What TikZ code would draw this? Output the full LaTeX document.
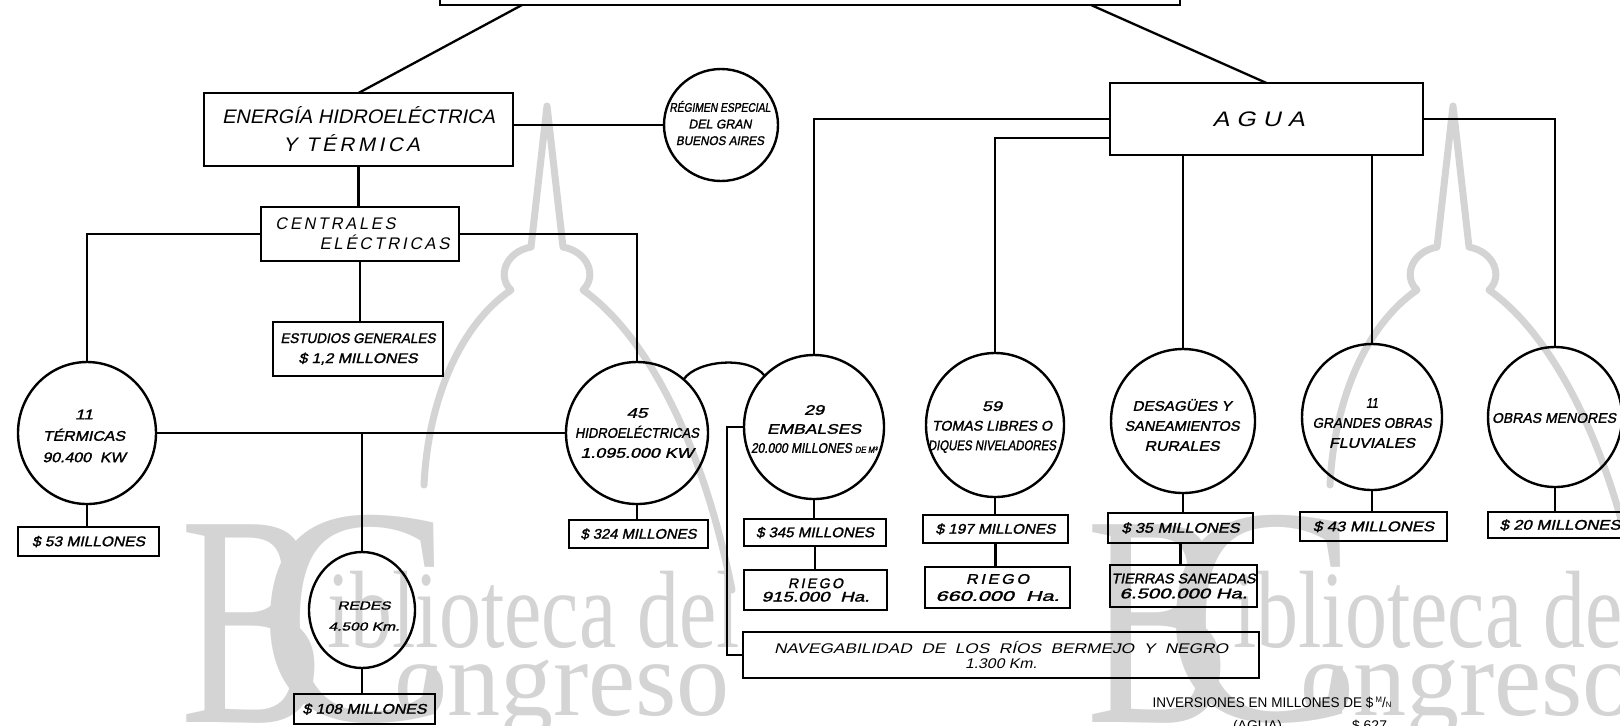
\documentclass[tikz,border=0pt]{standalone}
\usepackage{fontspec}
\usepackage{graphicx}
\usetikzlibrary{shapes.geometric,calc}
\newfontfamily\hand{Liberation Sans}[FakeSlant=0.2]
\newfontfamily\handb{Liberation Sans}[FakeSlant=0.2,FakeBold=1.5]
\newfontfamily\handu{Liberation Sans}
\newfontfamily\wmf{Liberation Serif}
\newlength\pxu \setlength\pxu{0.5pt}
\newcommand\fw[2]{\resizebox{#1\pxu}{\height}{#2}}
\newcommand\fs[2]{\fontsize{#1}{#2}\selectfont}
\definecolor{wmc}{gray}{0.83}
\tikzset{
  ln/.style={line width=1.15pt},
  bx/.style={draw, line width=1.3pt, rectangle, inner sep=0pt, outer sep=0pt, align=center, font=\handb\fs{7}{8}},
  el/.style={draw, line width=1.2pt, ellipse, inner sep=0pt, outer sep=0pt},
  txt/.style={inner sep=0pt, outer sep=0pt, align=center, font=\handb\fs{7}{10}},
  wmtext/.style={inner sep=0pt, outer sep=0pt, text=wmc},
  wml/.style={draw=wmc, line width=3.5pt, line cap=round, line join=round}
}
\begin{document}
\begin{tikzpicture}[x=0.5pt,y=-0.5pt]
\useasboundingbox (0,0) rectangle (1620,725);
\fill[white] (0,0) rectangle (1620,725);
% watermark
\foreach \o in {0,906}{
\begin{scope}[shift={(\o,0)}]
  \node[wmtext, anchor=base west, font=\wmf\fs{151}{151}] (wmB\o) at (180,722) {\fw{145}{B}};
  \node[wmtext, anchor=base west, font=\wmf\fs{155}{155}] (wmC\o) at (258,720) {\fw{195}{C}};
  \node[wmtext, anchor=base west, font=\wmf\fs{55}{55}] (wmT\o) at (327,647) {\fw{413}{iblioteca del}};
  \node[wmtext, anchor=base west, font=\wmf\fs{54}{54}] (wmO\o) at (394,715) {\fw{336}{ongreso}};
  \draw[wml] (424,485) .. controls (428,400) and (460,325) .. (511,290)
     .. controls (497,277) and (505,252) .. (531,247) -- (547,106) -- (563,247)
     .. controls (589,252) and (597,277) .. (583,290)
     .. controls (640,330) and (700,430) .. (732,590);
\end{scope}}
% top
\node[bx, minimum width=370pt, minimum height=25pt] (top) at (810,-20) {};
% energy side
\node[bx, minimum width=154.5pt, minimum height=36.5pt, font=\hand\fs{9.8}{14}] (energia) at (358.5,129.5)
  {\fw{273}{ENERGÍA HIDROELÉCTRICA}\\\fw{137}{Y\ \,T\,É\,R\,M\,I\,C\,A}\hspace*{14\pxu}};
\node[el, minimum width=57pt, minimum height=56pt] (regimen) at (721,125) {};
\node[txt, font=\handb\fs{6.3}{8.3}] (regimenT) at (720,123)
  {\fw{101}{RÉGIMEN ESPECIAL}\\\fw{63}{DEL GRAN}\\\fw{88}{BUENOS AIRES}};
\node[bx, minimum width=99pt, minimum height=27pt, font=\hand\fs{8.4}{10}] (centrales) at (360,234)
  {\fw{120}{C\,E\,N\,T\,R\,A\,L\,E\,S}\hspace*{49\pxu}\\\hspace*{49\pxu}\fw{130}{E\,L\,É\,C\,T\,R\,I\,C\,A\,S}};
\node[bx, minimum width=85pt, minimum height=27pt, font=\handb\fs{7}{10}] (estudios) at (358,349)
  {\fw{155}{ESTUDIOS GENERALES}\\\fw{119}{\$ 1,2 MILLONES}};
\node[el, minimum width=69pt, minimum height=71pt] (term) at (87,433) {};
\node[txt, font=\handb\fs{7}{10.7}] (termT) at (84,436)
  {\fw{18}{11}\\\fw{82}{TÉRMICAS}\\\fw{83}{90.400\ \ KW}};
\node[el, minimum width=71pt, minimum height=71pt] (hidro) at (637,433) {};
\node[txt, font=\handb\fs{7}{10}] (hidroT) at (637,433)
  {\fw{21}{45}\\\fw{124}{HIDROELÉCTRICAS}\\\fw{113}{1.095.000 KW}};
\node[bx, minimum width=70.5pt, minimum height=14.5pt] (t53) at (88.5,541.5) {\fw{113}{\$ 53 MILLONES}};
\node[bx, minimum width=69.5pt, minimum height=14pt] (h324) at (638.5,534) {\fw{116}{\$ 324 MILLONES}};
\node[el, minimum width=53pt, minimum height=58pt] (redes) at (362,610) {};
\node[txt, font=\handb\fs{5.8}{10.5}] (redesT) at (364,616) {\fw{53}{REDES}\\\fw{71}{4.500 Km.}};
\node[bx, minimum width=70.5pt, minimum height=15pt] (r108) at (364.5,709) {\fw{124}{\$ 108 MILLONES}};
% water side
\node[bx, minimum width=156.5pt, minimum height=36pt, font=\hand\fs{10.5}{12}] (agua) at (1266.5,119)
  {\fw{92}{A\ G\ U\ A}\hspace*{16\pxu}};
\node[el, minimum width=70pt, minimum height=72pt] (emb) at (814,427) {};
\node[txt, font=\handb\fs{7}{9.5}] (embT) at (814,429)
  {\fw{20}{29}\\\fw{94}{EMBALSES}\\\fw{126}{20.000 MILLONES {\fs{4.5}{5}DE M³}}};
\node[el, minimum width=69pt, minimum height=72pt] (tomas) at (995,425) {};
\node[txt, font=\handb\fs{7}{9.8}] (tomasT) at (992,427)
  {\fw{20}{59}\\\fw{120}{TOMAS LIBRES O}\\\fw{128}{DIQUES NIVELADORES}};
\node[el, minimum width=72pt, minimum height=72pt] (desag) at (1183,421) {};
\node[txt, font=\handb\fs{7}{10}] (desagT) at (1182,425)
  {\fw{99}{DESAGÜES Y}\\\fw{115}{SANEAMIENTOS}\\\fw{75}{RURALES}};
\node[el, minimum width=70pt, minimum height=73pt] (grand) at (1372,417) {};
\node[txt, font=\handb\fs{7}{10}] (grandT) at (1372,423)
  {\fw{12}{11}\\\fw{119}{GRANDES OBRAS}\\\fw{86}{FLUVIALES}};
\node[el, minimum width=67pt, minimum height=70pt] (obras) at (1555,417) {};
\node[txt] (obrasT) at (1554,418) {\fw{124}{OBRAS MENORES}};
\node[bx, minimum width=71pt, minimum height=13.5pt] (e345) at (815,532.5) {\fw{118}{\$ 345 MILLONES}};
\node[bx, minimum width=71.5pt, minimum height=20pt, font=\handb\fs{7}{6.7}] (r915) at (815.5,590)
  {\fw{55}{R\,I\,E\,G\,O}\\\fw{108}{915.000\ \ Ha.}};
\node[bx, minimum width=72.5pt, minimum height=14pt] (t197) at (995.5,529) {\fw{120}{\$ 197 MILLONES}};
\node[bx, minimum width=72.5pt, minimum height=20.5pt, font=\handb\fs{7}{8.5}] (r660) at (997.5,587.5)
  {\fw{63}{R\,I\,E\,G\,O}\\\fw{124}{660.000\ \ Ha.}};
\node[bx, minimum width=72.5pt, minimum height=15pt] (d35) at (1180.5,528) {\fw{118}{\$ 35 MILLONES}};
\node[bx, minimum width=73.5pt, minimum height=21pt, font=\handb\fs{7}{7.5}] (tier) at (1183.5,586)
  {\fw{144}{TIERRAS SANEADAS}\\\fw{128}{6.500.000 Ha.}};
\node[bx, minimum width=73.5pt, minimum height=14.5pt] (g43) at (1373.5,526.5) {\fw{121}{\$ 43 MILLONES}};
\node[bx, minimum width=72pt, minimum height=13pt] (o20) at (1560,525) {\fw{121}{\$ 20 MILLONES}};
\node[bx, minimum width=258pt, minimum height=23pt, font=\hand\fs{7}{7.5}] (nav) at (1001,655)
  {\fw{454}{NAVEGABILIDAD\ \ DE\ \ LOS\ \ RÍOS\ \ BERMEJO\ \ Y\ \ NEGRO}\\\fw{72}{1.300\ Km.}};
\coordinate (navc) at (727,600);
% legend
\node[txt, font=\handu\fs{7}{8}] (inv) at (1272,703)
  {\fw{239}{INVERSIONES EN MILLONES DE \$\,{\fs{4}{4}\raisebox{2.5pt}{M}}/{\fs{4}{4}N}}};
\node[txt, anchor=base west, font=\handu\fs{7}{8}] (invb) at (1233,730) {(AGUA)\hspace*{70\pxu}\$\ 627};
% connectors
\draw[ln] ($(top.south west)+(82,0)$) -- (energia.north);
\draw[ln] ($(top.south west)+(651,0)$) -- (agua.north);
\draw[ln] (energia.east |- regimen.west) -- (regimen.west);
\draw[ln] (energia.south) -- (energia.south |- centrales.north);
\draw[ln] (centrales.west) -| (term.north);
\draw[ln] (centrales.east) -| (hidro.north);
\draw[ln] (centrales.south) -- (centrales.south |- estudios.north);
\draw[ln] (term.east) -- (hidro.west);
\draw[ln] (term.east -| redes.north) -- (redes.north);
\draw[ln] (term.south) -- (term.south |- t53.north);
\draw[ln] (hidro.south) -- (hidro.south |- h324.north);
\draw[ln] (redes.south) -- (redes.south |- r108.north);
\draw[ln] (hidro.49) .. controls +(14,-20) and +(-14,-20) .. (emb.134);
\draw[ln] (emb.west) -| (navc) |- (nav.west);
\draw[ln] (agua.west) -| (emb.north);
\draw[ln] ($(agua.west)+(0,19)$) -| (tomas.north);
\draw[ln] (agua.south -| desag.north) -- (desag.north);
\draw[ln] (agua.south -| grand.north) -- (grand.north);
\draw[ln] (agua.east) -| (obras.north);
\draw[ln] (emb.south) -- (emb.south |- e345.north);
\draw[ln] (e345.south) -- (e345.south |- r915.north);
\draw[ln] (tomas.south) -- (tomas.south |- t197.north);
\draw[ln] (t197.south) -- (t197.south |- r660.north);
\draw[ln] (desag.south) -- (desag.south |- d35.north);
\draw[ln] (d35.south) -- (d35.south |- tier.north);
\draw[ln] (grand.south) -- (grand.south |- g43.north);
\draw[ln] (obras.south) -- (obras.south |- o20.north);
\end{tikzpicture}
\end{document}
